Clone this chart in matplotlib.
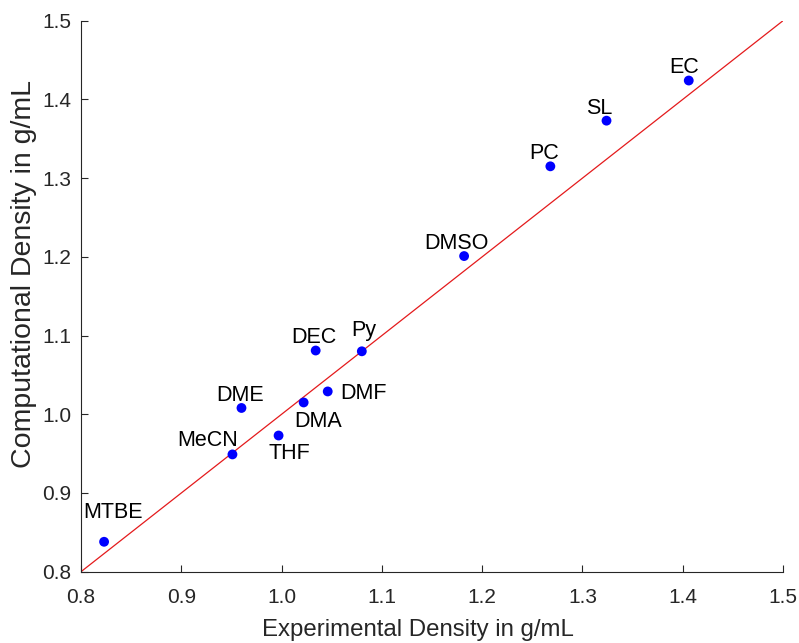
import matplotlib
matplotlib.use("Agg")
import matplotlib.pyplot as plt

plt.rcParams['font.family'] = ['Liberation Sans', 'DejaVu Sans']

# Solvent densities (g/mL)
solvents = ["MTBE", "MeCN", "DME", "THF", "DMA", "DEC", "DMF", "Py",
            "DMSO", "PC", "SL", "EC"]
experimental = [0.823, 0.951, 0.960, 0.997, 1.022, 1.034, 1.046, 1.080,
                1.182, 1.268, 1.324, 1.406]
computational = [0.838, 0.949, 1.008, 0.973, 1.015, 1.081, 1.029, 1.080,
                 1.201, 1.315, 1.373, 1.424]

# label placement: (dx, dy) in pixels from the point, and horizontal alignment
label_offsets = {
    "MTBE": (9, 24, "center"), "MeCN": (-25, 8, "center"),
    "DME": (-1, 7, "center"), "THF": (11, -23, "center"),
    "DMA": (14, -25, "center"), "DEC": (-2, 8, "center"),
    "DMF": (13, -8, "left"), "Py": (2, 15, "center"),
    "DMSO": (-8, 7, "center"), "PC": (-6, 7, "center"),
    "SL": (-7, 7, "center"), "EC": (-5, 8, "center"),
}

axis_lo, axis_hi = 0.8, 1.5
ticks = [0.8, 0.9, 1.0, 1.1, 1.2, 1.3, 1.4, 1.5]

fig = plt.figure(figsize=(7.99, 6.43), dpi=100)
ax = fig.add_axes([0.1014, 0.1109, 0.8786, 0.8569])

ax.plot([axis_lo, axis_hi], [axis_lo, axis_hi], color="#e41a1c", lw=0.9,
        zorder=2)
ax.scatter(experimental, computational, s=50, color="#0000ff",
           edgecolors="none", zorder=3)

for name, x, y in zip(solvents, experimental, computational):
    dx, dy, ha = label_offsets[name]
    ax.annotate(name, (x, y), xytext=(dx, dy), textcoords="offset pixels",
                ha=ha, va="baseline", fontsize=15.5, color="black", zorder=4)

ax.set_xlim(axis_lo, axis_hi)
ax.set_ylim(axis_lo, axis_hi)
ax.set_xticks(ticks)
ax.set_yticks(ticks)
ax.set_xticklabels([f"{t:.1f}" for t in ticks])
ax.set_yticklabels([f"{t:.1f}" for t in ticks])

spine_color = "#262626"
for side in ("top", "right"):
    ax.spines[side].set_visible(False)
for side in ("left", "bottom"):
    ax.spines[side].set_color(spine_color)
    ax.spines[side].set_linewidth(0.8)
ax.tick_params(direction="in", length=5, width=0.8, color=spine_color,
               labelcolor=spine_color, labelsize=15)
ax.tick_params(axis="x", pad=12)
ax.tick_params(axis="y", pad=7)

ax.set_xlabel("Experimental Density in g/mL", fontsize=17.3,
              color=spine_color)
ax.set_ylabel("Computational Density in g/mL", fontsize=20.5,
              color=spine_color)
ax.xaxis.set_label_coords(0.480, -0.085)
ax.yaxis.set_label_coords(-0.063, 0.540)

fig.savefig("out.png", dpi=100)
